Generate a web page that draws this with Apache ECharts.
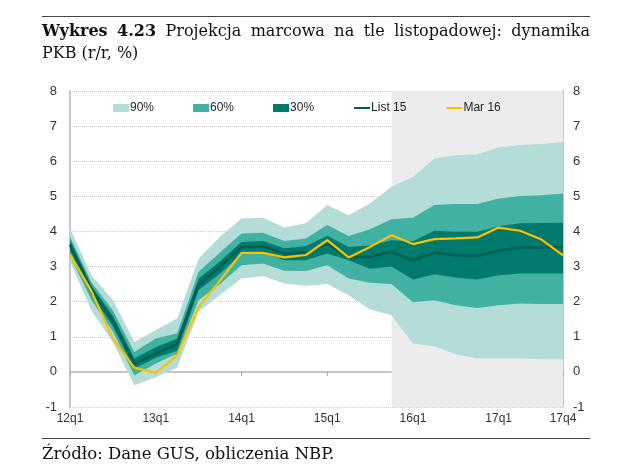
<!DOCTYPE html>
<html lang="pl">
<head>
    <meta charset="UTF-8">
    <title>Wykres 4.23</title>
    <script src="https://cdn.jsdelivr.net/npm/echarts@6/dist/echarts.min.js"></script>
</head>
<body style="margin:0">
<div id="demo" style="width: 640px;height: 473px;"></div>
</body>
</html>
<script>
    var kwartaly = ['12q1','12q2','12q3','12q4','13q1','13q2','13q3','13q4',
        '14q1','14q2','14q3','14q4','15q1','15q2','15q3','15q4',
        '16q1','16q2','16q3','16q4','17q1','17q2','17q3','17q4'];
    // granice przedzialow wachlarza
    var hi90 = [4.1, 2.75, 2.05, 0.85, 1.19, 1.52, 3.23, 3.85, 4.37, 4.39, 4.11, 4.23, 4.75, 4.46, 4.8, 5.27, 5.55, 6.08, 6.17, 6.2, 6.39, 6.46, 6.49, 6.55];
    var lo90 = [3.15, 1.75, 0.85, -0.38, -0.15, 0.12, 1.71, 2.19, 2.66, 2.73, 2.52, 2.45, 2.5, 2.18, 1.78, 1.61, 0.81, 0.73, 0.5, 0.38, 0.38, 0.38, 0.36, 0.36];
    var hi60 = [3.85, 2.55, 1.75, 0.57, 0.95, 1.1, 2.85, 3.4, 3.94, 3.96, 3.73, 3.8, 4.18, 3.87, 4.06, 4.35, 4.39, 4.75, 4.78, 4.78, 4.94, 5.01, 5.03, 5.08];
    var lo60 = [3.3, 2.05, 1.15, -0.1, 0.24, 0.52, 2.04, 2.5, 3.04, 3.09, 2.88, 2.87, 3.04, 2.66, 2.54, 2.5, 1.98, 2.04, 1.9, 1.82, 1.9, 1.95, 1.93, 1.93];
    var hi30 = [3.75, 2.45, 1.6, 0.38, 0.7, 0.95, 2.66, 3.15, 3.7, 3.73, 3.52, 3.58, 3.88, 3.56, 3.6, 3.75, 3.72, 4.02, 3.99, 3.99, 4.15, 4.23, 4.24, 4.25];
    var lo30 = [3.45, 2.2, 1.3, 0.1, 0.4, 0.6, 2.33, 2.8, 3.37, 3.39, 3.18, 3.18, 3.37, 3.18, 2.94, 3.0, 2.63, 2.78, 2.69, 2.63, 2.75, 2.8, 2.8, 2.8];
    var list15 = [3.62, 2.35, 1.45, 0.24, 0.52, 0.8, 2.47, 3.0, 3.56, 3.58, 3.37, 3.39, 3.65, 3.26, 3.28, 3.42, 3.18, 3.39, 3.32, 3.3, 3.45, 3.54, 3.54, 3.56];
    var mar16 = [3.35, 2.3, 0.95, 0.12, -0.03, 0.47, 1.85, 2.6, 3.39, 3.39, 3.26, 3.33, 3.75, 3.26, 3.56, 3.89, 3.64, 3.78, 3.8, 3.83, 4.11, 4.02, 3.77, 3.32];
    var poczatekProjekcji = '15q4';

    var kolory = {p90: '#b3ddd6', p60: '#41b1a2', p30: '#007a6c', list: '#005f53', mar: '#ffc000'};

    function roznica(hi, lo) {
        return hi.map(function (v, i) { return +(v - lo[i]).toFixed(3); });
    }

    function pasmo(nazwa, hi, lo, kolor) {
        return [
            {
                name: 'base' + nazwa, type: 'line', stack: nazwa, stackStrategy: 'all',
                data: lo, symbol: 'none', lineStyle: {width: 0}, z: 3, silent: true
            },
            {
                name: nazwa, type: 'line', stack: nazwa, stackStrategy: 'all',
                data: roznica(hi, lo), symbol: 'none', lineStyle: {width: 0},
                itemStyle: {color: kolor}, areaStyle: {color: kolor, opacity: 1}, z: 3, silent: true
            }
        ];
    }

    var pokazEtykiete = function (i) { return i % 4 === 0 || i === kwartaly.length - 1; };
    var sans = 'Liberation Sans';
    var serif = 'DejaVu Serif';

    var osY = {
        type: 'value', min: -1, max: 8, interval: 1,
        axisLine: {show: true, lineStyle: {color: '#c4c4c4', width: 2}},
        axisTick: {show: false},
        axisLabel: {color: '#333', fontSize: 13, fontFamily: sans, margin: 13},
        splitLine: {show: true, lineStyle: {color: '#cfcfcf', type: 'dotted'}}
    };

    // tytul wyjustowany: pierwsza linia od 42 do 590 px
    var slowa = [
        {t: 'Wykres', b: true}, {t: '4.23', b: true}, {t: 'Projekcja'}, {t: 'marcowa'},
        {t: 'na'}, {t: 'tle'}, {t: 'listopadowej:'}, {t: 'dynamika'}
    ];
    var ctx = document.createElement('canvas').getContext('2d');
    function czcionka(b) { return (b ? 'bold ' : '') + '16px "' + serif + '"'; }
    var suma = 0;
    slowa.forEach(function (s) {
        ctx.font = czcionka(s.b);
        s.w = ctx.measureText(s.t).width;
        suma += s.w;
    });
    var odstep = (590 - 42 - suma) / (slowa.length - 1);
    var grafika = [];
    var xx = 42;
    slowa.forEach(function (s) {
        grafika.push({
            type: 'text', x: xx, y: 32,
            style: {text: s.t, fill: '#111', verticalAlign: 'middle', font: czcionka(s.b)}
        });
        xx += s.w + odstep;
    });
    grafika.push(
        {type: 'text', x: 42, y: 54, style: {text: 'PKB (r/r, %)', fill: '#111', verticalAlign: 'middle', font: czcionka(false)}},
        {type: 'line', shape: {x1: 42, y1: 16.5, x2: 590, y2: 16.5}, style: {stroke: '#444', lineWidth: 1}},
        {type: 'line', shape: {x1: 42, y1: 438.5, x2: 590, y2: 438.5}, style: {stroke: '#444', lineWidth: 1}},
        {type: 'text', x: 42, y: 455, style: {text: 'Źródło: Dane GUS, obliczenia NBP.', fill: '#111', verticalAlign: 'middle', font: '16.5px "' + serif + '"'}}
    );

    var myChart = echarts.init(document.getElementById('demo'));
    var option = {
        animation: false,
        backgroundColor: '#fff',
        grid: {left: 70, right: 77, top: 91, bottom: 66},
        legend: {
            left: 108, top: 97, itemWidth: 16, itemHeight: 8, itemGap: 39,
            textStyle: {color: '#222', fontSize: 12, fontFamily: sans, padding: [0, 0, 0, -4]},
            data: [
                {name: '90%', icon: 'rect'},
                {name: '60%', icon: 'rect'},
                {name: '30%', icon: 'rect'},
                {name: 'List 15', itemStyle: {opacity: 0}},
                {name: 'Mar 16', itemStyle: {opacity: 0}}
            ]
        },
        xAxis: {
            type: 'category', data: kwartaly, boundaryGap: false,
            axisLine: {lineStyle: {color: '#c4c4c4', width: 2}},
            axisTick: {interval: pokazEtykiete, length: 4, lineStyle: {color: '#aaa'}},
            axisLabel: {interval: pokazEtykiete, color: '#333', fontSize: 12, fontFamily: sans, margin: 6}
        },
        yAxis: [osY, Object.assign({}, osY, {position: 'right', splitLine: {show: false},
            axisLabel: Object.assign({}, osY.axisLabel, {margin: 10})})],
        graphic: grafika,
        series: [].concat(
            [{
                name: 'tlo', type: 'line', data: [], z: 1, silent: true,
                markArea: {
                    silent: true,
                    itemStyle: {color: '#ececec'},
                    data: [[{xAxis: poczatekProjekcji}, {xAxis: kwartaly[kwartaly.length - 1]}]]
                }
            }],
            pasmo('90%', hi90, lo90, kolory.p90),
            pasmo('60%', hi60, lo60, kolory.p60),
            pasmo('30%', hi30, lo30, kolory.p30),
            [
                {
                    name: 'List 15', type: 'line', data: list15, symbol: 'none', z: 4,
                    itemStyle: {color: kolory.list}, lineStyle: {color: kolory.list, width: 2.5}
                },
                {
                    name: 'Mar 16', type: 'line', data: mar16, symbol: 'none', z: 5,
                    itemStyle: {color: kolory.mar}, lineStyle: {color: kolory.mar, width: 2.2}
                }
            ]
        )
    };
    myChart.setOption(option);
</script>
